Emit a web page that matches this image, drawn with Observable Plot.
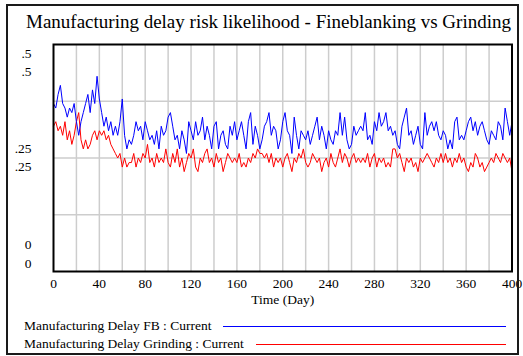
<!DOCTYPE html>
<html>
<head>
<meta charset="utf-8">
<script src="https://cdn.jsdelivr.net/npm/d3@7"></script>
<script src="https://cdn.jsdelivr.net/npm/@observablehq/plot@0.6"></script>
<style>
  body { margin: 0; background: #fff; }
  #chart { position: relative; width: 523px; height: 356px; font-family: "Liberation Serif", "Times New Roman", serif; color: #000; }
  #chart svg { position: absolute; left: 0; top: 0; }
  .box { position: absolute; left: 6px; top: 4px; width: 513px; height: 351px; border: 2px solid #1a1a1a; box-sizing: border-box; pointer-events: none; }
  .title { position: absolute; left: 26px; top: 12px; font-size: 19px; line-height: 19px; white-space: nowrap; }
  .legend { position: absolute; left: 24px; top: 317px; width: 482px; font-size: 13.5px; line-height: 18px; }
  .legend .row { display: flex; align-items: center; white-space: nowrap; }
  .legend .swatch { flex: 1; height: 1px; margin-left: 12px; }
</style>
</head>
<body>
<div id="chart"></div>
<script>
// Simulation output, sampled every 2 days (Day 0 .. 400)
const days = d3.range(0, 401, 2);

// Manufacturing Delay FB : Current
const fbDelay = [
  0.37,0.36,0.39,0.41,0.37,0.36,0.34,0.36,0.35,0.37,0.33,0.30,0.33,0.35,0.37,0.39,0.35,0.40,0.37,0.43,
  0.38,0.35,0.32,0.34,0.31,0.33,0.30,0.32,0.30,0.33,0.38,0.30,0.27,0.29,
  0.28,0.30,0.33,0.31,0.32,0.29,0.33,0.31,0.29,0.30,0.28,0.31,0.27,0.32,0.30,0.31,0.34,0.35,0.32,0.29,
  0.30,0.27,0.31,0.29,0.26,0.33,0.31,0.29,0.33,0.30,0.31,0.34,0.29,0.32,
  0.30,0.27,0.32,0.33,0.27,0.30,0.31,0.28,0.27,0.32,0.30,0.33,0.29,0.31,0.33,0.30,0.27,0.33,0.35,0.28,
  0.32,0.30,0.27,0.29,0.32,0.33,0.35,0.30,0.32,0.31,0.27,0.29,0.33,0.35,0.31,
  0.30,0.26,0.34,0.30,0.27,0.31,0.30,0.29,0.31,0.28,0.30,0.32,0.34,0.29,0.32,0.30,0.27,0.31,0.29,0.28,
  0.31,0.30,0.35,0.30,0.34,0.29,0.27,0.28,0.32,0.30,0.31,0.32,0.31,
  0.35,0.29,0.30,0.28,0.33,0.31,0.35,0.32,0.33,0.35,0.31,0.32,0.30,0.31,0.28,0.27,0.32,0.34,0.36,0.30,
  0.31,0.28,0.30,0.32,0.28,0.27,0.35,0.30,0.32,0.33,0.31,0.33,0.30,0.29,0.31,
  0.30,0.27,0.29,0.27,0.33,0.34,0.29,0.30,0.29,0.31,0.33,0.34,0.31,0.33,0.30,0.32,0.33,0.31,0.29,0.28,
  0.31,0.30,0.29,0.33,0.32,0.29,0.36,0.33,0.30,0.33
];

// Manufacturing Delay Grinding : Current
const grindingDelay = [
  0.32,0.33,0.31,0.32,0.30,0.33,0.29,0.31,0.28,0.30,0.33,0.35,0.29,0.27,0.29,0.27,0.28,0.30,0.31,0.29,
  0.31,0.30,0.31,0.29,0.30,0.28,0.27,0.26,0.25,0.26,0.23,0.25,0.23,0.24,
  0.24,0.26,0.23,0.25,0.24,0.26,0.25,0.28,0.24,0.25,0.23,0.26,0.24,0.25,0.24,0.27,0.24,0.23,0.26,0.24,
  0.27,0.23,0.25,0.22,0.24,0.26,0.25,0.27,0.23,0.22,0.25,0.24,0.26,0.27,
  0.24,0.25,0.23,0.26,0.24,0.25,0.22,0.24,0.26,0.25,0.24,0.25,0.24,0.26,0.23,0.24,0.23,0.25,0.24,0.26,
  0.25,0.27,0.26,0.26,0.25,0.26,0.24,0.26,0.23,0.25,0.24,0.25,0.23,0.25,0.26,
  0.24,0.22,0.25,0.24,0.26,0.25,0.27,0.24,0.23,0.24,0.26,0.25,0.24,0.25,0.22,0.24,0.25,0.23,0.26,0.24,
  0.23,0.25,0.27,0.24,0.26,0.25,0.23,0.25,0.26,0.24,0.25,0.24,0.25,
  0.24,0.26,0.23,0.25,0.26,0.23,0.25,0.24,0.25,0.23,0.24,0.23,0.27,0.27,0.25,0.26,0.24,0.22,0.25,0.24,
  0.25,0.23,0.24,0.22,0.25,0.24,0.25,0.26,0.25,0.24,0.23,0.25,0.24,0.26,0.24,
  0.26,0.24,0.25,0.23,0.25,0.24,0.26,0.24,0.25,0.23,0.22,0.24,0.23,0.26,0.25,0.23,0.24,0.22,0.23,0.24,
  0.25,0.24,0.26,0.25,0.24,0.26,0.25,0.24,0.25,0.22
];

const seriesNames = ["Manufacturing Delay FB : Current", "Manufacturing Delay Grinding : Current"];
const seriesColors = ["#0000ff", "#ff0000"];

const titleText = "Manufacturing delay risk likelihood - Fineblanking vs Grinding";
const xLabel = "Time (Day)";
const xTicks = [0, 40, 80, 120, 160, 200, 240, 280, 320, 360, 400];
const xGrid = d3.range(20, 400, 20);
const yTicks = [0, 0.25, 0.5];
const yTickLabels = ["0", ".25", ".5"];
const yGrid = [0.125, 0.25, 0.375];

const rows = days.map((day, i) => ({day, fb: fbDelay[i], grinding: grindingDelay[i]}));

// One label per series at each tick, stacked: below the top tick,
// around the middle ones and above the bottom tick.
const yDomain = [0, 0.5];
const yLabelMarks = yTicks.flatMap((v, i) => {
  const offsets = v === yDomain[1] ? [9, 27] : v === yDomain[0] ? [-27, -8] : [-9, 9];
  return offsets.map((dy) =>
    Plot.text([yTickLabels[i]], {
      y: [v], text: (d) => d, frameAnchor: "left", dx: -22, dy, textAnchor: "end"
    })
  );
});

const chart = Plot.plot({
  width: 523,
  height: 356,
  marginLeft: 53,
  marginRight: 11.5,
  marginTop: 44,
  marginBottom: 85,
  style: {
    fontFamily: '"Liberation Serif", "Times New Roman", serif',
    fontSize: "13.5px",
    background: "transparent",
    color: "#000"
  },
  x: {domain: [0, 400], ticks: xTicks, tickSize: 0, tickPadding: 7, label: null},
  y: {domain: yDomain, axis: null},
  marks: [
    Plot.ruleX(xGrid, {stroke: "#cdcdcd", strokeWidth: 1.5}),
    Plot.ruleY(yGrid, {stroke: "#cdcdcd", strokeWidth: 1.5}),
    Plot.line(rows, {x: "day", y: "grinding", stroke: seriesColors[1], strokeWidth: 1}),
    Plot.line(rows, {x: "day", y: "fb", stroke: seriesColors[0], strokeWidth: 1}),
    Plot.frame({stroke: "#000", strokeWidth: 2}),
    ...yLabelMarks,
    Plot.text([xLabel], {text: (d) => d, frameAnchor: "bottom", dy: 32})
  ]
});

const root = document.getElementById("chart");
root.appendChild(chart);

const title = document.createElement("div");
title.className = "title";
title.textContent = titleText;
root.appendChild(title);

const legend = document.createElement("div");
legend.className = "legend";
seriesNames.forEach((name, i) => {
  const row = document.createElement("div");
  row.className = "row";
  const label = document.createElement("span");
  label.textContent = name;
  const swatch = document.createElement("span");
  swatch.className = "swatch";
  swatch.style.background = seriesColors[i];
  row.appendChild(label);
  row.appendChild(swatch);
  legend.appendChild(row);
});
root.appendChild(legend);

const box = document.createElement("div");
box.className = "box";
root.appendChild(box);
</script>
</body>
</html>
